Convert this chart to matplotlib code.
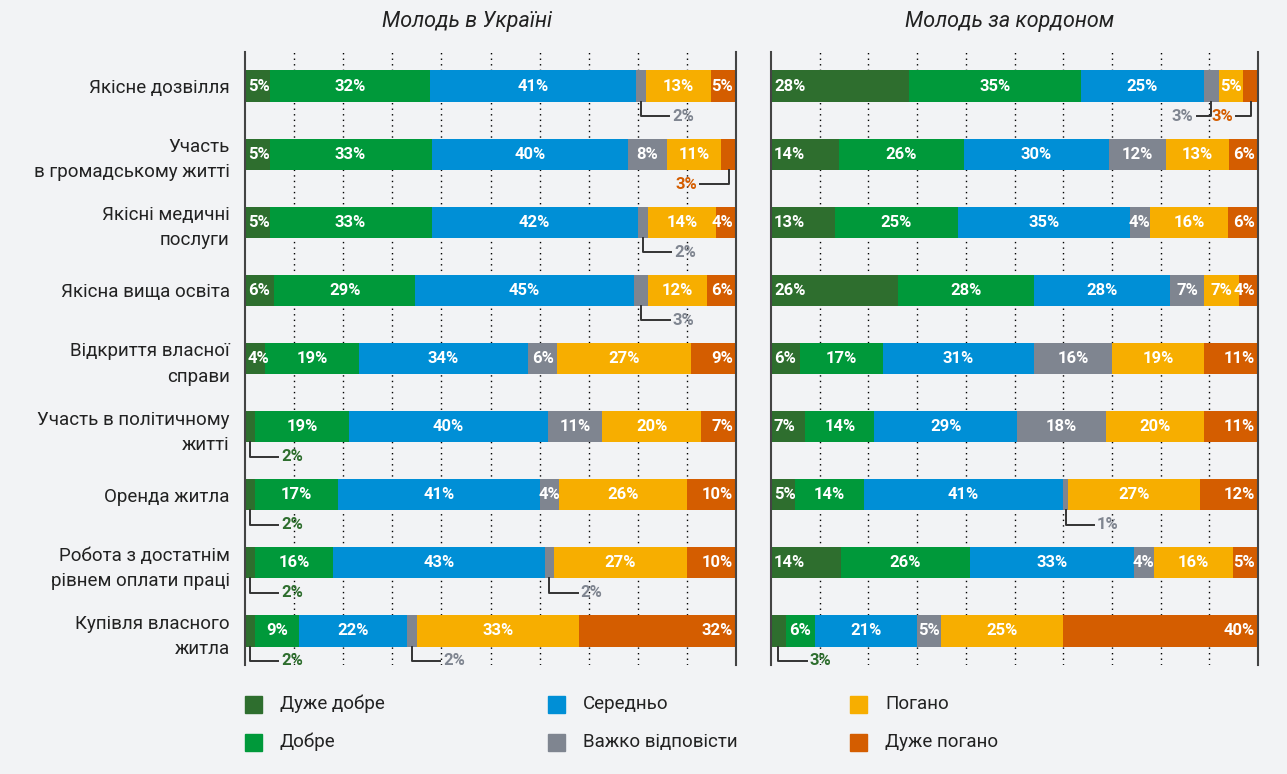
import matplotlib
matplotlib.use("Agg")
import matplotlib.pyplot as plt
from matplotlib.patches import Rectangle
import numpy as np

plt.rcParams['font.family'] = ['Roboto', 'DejaVu Sans']

categories = ["Якісне дозвілля",
              "Участь\nв громадському житті",
              "Якісні медичні\nпослуги",
              "Якісна вища освіта",
              "Відкриття власної\nсправи",
              "Участь в політичному\nжитті",
              "Оренда житла",
              "Робота з достатнім\nрівнем оплати праці",
              "Купівля власного\nжитла"]

answers = ["Дуже добре", "Добре", "Середньо", "Важко відповісти", "Погано", "Дуже погано"]

# columns follow `answers`
ukraine = [[5, 32, 41, 2, 13, 5],
           [5, 33, 40, 8, 11, 3],
           [5, 33, 42, 2, 14, 4],
           [6, 29, 45, 3, 12, 6],
           [4, 19, 34, 6, 27, 9],
           [2, 19, 40, 11, 20, 7],
           [2, 17, 41, 4, 26, 10],
           [2, 16, 43, 2, 27, 10],
           [2, 9, 22, 2, 33, 32]]

abroad = [[28, 35, 25, 3, 5, 3],
          [14, 26, 30, 12, 13, 6],
          [13, 25, 35, 4, 16, 6],
          [26, 28, 28, 7, 7, 4],
          [6, 17, 31, 16, 19, 11],
          [7, 14, 29, 18, 20, 11],
          [5, 14, 41, 1, 27, 12],
          [14, 26, 33, 4, 16, 5],
          [3, 6, 21, 5, 25, 40]]

titles = ["Молодь в Україні", "Молодь за кордоном"]

colors = ['#2e6e2e', '#00993a', '#008fd6', '#7f8590', '#f7ae00', '#d45d00']
bg = '#f2f3f5'

fig = plt.figure(figsize=(12.87, 7.74), dpi=100, facecolor=bg)
ax1 = fig.add_axes([245 / 1287, 1 - 665 / 774, 491 / 1287, 613 / 774])
ax2 = fig.add_axes([771 / 1287, 1 - 665 / 774, 487 / 1287, 613 / 774])

bar_h = 0.46
y = np.arange(len(categories))
lab_fs = 12

for ax, data, title, tx in [(ax1, ukraine, titles[0], 0.452), (ax2, abroad, titles[1], 0.49)]:
    vals = np.array(data, dtype=float)
    widths = vals / vals.sum(axis=1, keepdims=True) * 100
    lefts = np.cumsum(widths, axis=1) - widths
    ax.set_facecolor(bg)
    ax.set_xlim(0, 100)
    ax.set_ylim(len(categories) - 0.5, -0.5)
    for x in range(10, 100, 10):
        ax.axvline(x, color='black', lw=1, ls=(0, (1, 3)), zorder=0)

    for j in range(len(answers)):
        ax.barh(y, widths[:, j], left=lefts[:, j], height=bar_h, color=colors[j], zorder=2)

    for i in range(len(categories)):
        # how many callouts point left in this row (to keep them short)
        n_left = sum(1 for j in range(6) if vals[i, j] <= 3 and lefts[i, j] + widths[i, j] / 2 > 85)
        for j in range(len(answers)):
            v = int(vals[i, j])
            l, w = lefts[i, j], widths[i, j]
            c = l + w / 2
            if v <= 3:
                ln = 3 if n_left > 1 else 5.8
                y0 = i + bar_h / 2
                y1 = i + bar_h / 2 + 0.21
                if c > 85:
                    ax.plot([c, c, c - ln], [y0, y1, y1], color='#333333', lw=1.4, zorder=3, clip_on=False)
                    ax.text(c - ln - 0.6, y1, f"{v}%", ha='right', va='center', color=colors[j],
                            fontsize=lab_fs, fontweight='bold', zorder=4, clip_on=False)
                else:
                    ax.plot([c, c, c + ln], [y0, y1, y1], color='#333333', lw=1.4, zorder=3, clip_on=False)
                    ax.text(c + ln + 0.6, y1, f"{v}%", ha='left', va='center', color=colors[j],
                            fontsize=lab_fs, fontweight='bold', zorder=4, clip_on=False)
                continue
            if j == 0:
                ax.text(l + 0.6, i, f"{v}%", ha='left', va='center', color='white',
                        fontsize=lab_fs, fontweight='bold', zorder=4)
            elif j == len(answers) - 1:
                ax.text(l + w - 0.6, i, f"{v}%", ha='right', va='center', color='white',
                        fontsize=lab_fs, fontweight='bold', zorder=4)
            else:
                ax.text(c, i, f"{v}%", ha='center', va='center', color='white',
                        fontsize=lab_fs, fontweight='bold', zorder=4)

    for s in ['top', 'bottom']:
        ax.spines[s].set_visible(False)
    for s in ['left', 'right']:
        ax.spines[s].set_color('#444444')
        ax.spines[s].set_linewidth(1.5)
    ax.set_xticks([])
    ax.text(tx, 1 + 30 / 613, title, transform=ax.transAxes, ha='center', va='center',
            fontsize=15.5, fontstyle='italic', color='#222222')

ax1.set_yticks(y)
ax1.set_yticklabels(categories, fontsize=13.5, color='#222222', linespacing=1.5)
ax1.tick_params(axis='y', length=0, pad=11)
ax2.set_yticks([])

# legend, 3 columns x 2 rows
col_x = [245, 548, 850]
row_y = [704, 742]
for k, name in enumerate(answers):
    cx = col_x[k // 2]
    cy = row_y[k % 2]
    fig.add_artist(Rectangle((cx / 1287, 1 - (cy + 8.5) / 774), 17 / 1287, 17 / 774,
                             transform=fig.transFigure, color=colors[k]))
    fig.text((cx + 35) / 1287, 1 - cy / 774, name, ha='left', va='center',
             fontsize=13.5, color='#222222')

fig.savefig("out.png", dpi=100, facecolor=bg)
